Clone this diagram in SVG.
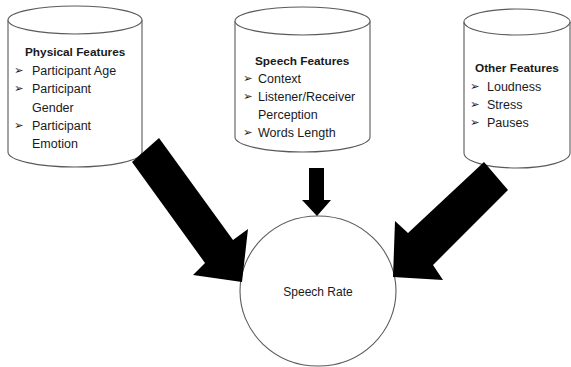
<svg xmlns="http://www.w3.org/2000/svg" width="571" height="367" viewBox="0 0 571 367">
  <style>
    .shape { fill: #ffffff; stroke: #5a5a5a; stroke-width: 1.1; }
    .head { font-family: "Liberation Sans", Arial, sans-serif; font-size: 11.8px; font-weight: bold; fill: #1a1a1a; }
    .item { font-family: "Liberation Sans", Arial, sans-serif; font-size: 12.5px; fill: #1a1a1a; }
    .label { font-family: "Liberation Sans", Arial, sans-serif; font-size: 12px; fill: #1a1a1a; }
    .bullet { font-family: "DejaVu Sans", sans-serif; font-size: 11.5px; fill: #1a1a1a; }
    .arrow { fill: #000000; stroke: none; }
  </style>
  <rect width="571" height="367" fill="#ffffff"/>

  <!-- Physical features store -->
  <g id="physical">
    <path class="shape" d="M8,20 V152 A67,15 0 0 0 142,152 V20"/>
    <ellipse class="shape" cx="75" cy="20" rx="67" ry="14"/>
    <text class="head" x="25" y="56">Physical Features</text>
    <text class="bullet" x="14" y="74">➢</text><text class="item" x="32" y="75">Participant Age</text>
    <text class="bullet" x="14" y="92">➢</text><text class="item" x="32" y="93">Participant</text>
    <text class="item" x="32" y="112">Gender</text>
    <text class="bullet" x="14" y="129">➢</text><text class="item" x="32" y="130">Participant</text>
    <text class="item" x="32" y="148">Emotion</text>
  </g>

  <!-- Speech features store -->
  <g id="speech">
    <path class="shape" d="M235,21 V137 A67.5,15 0 0 0 370,137 V21"/>
    <ellipse class="shape" cx="302.5" cy="21" rx="67.5" ry="14"/>
    <text class="head" x="255" y="65">Speech Features</text>
    <text class="bullet" x="243" y="82">➢</text><text class="item" x="258" y="83">Context</text>
    <text class="bullet" x="243" y="100">➢</text><text class="item" x="258" y="101">Listener/Receiver</text>
    <text class="item" x="258" y="119">Perception</text>
    <text class="bullet" x="243" y="136">➢</text><text class="item" x="258" y="137">Words Length</text>
  </g>

  <!-- Other features store -->
  <g id="other">
    <path class="shape" d="M464,22 V153 A53,15 0 0 0 570,153 V22"/>
    <ellipse class="shape" cx="517" cy="22" rx="53" ry="13"/>
    <text class="head" x="475" y="72">Other Features</text>
    <text class="bullet" x="470" y="90">➢</text><text class="item" x="487" y="91">Loudness</text>
    <text class="bullet" x="470" y="108">➢</text><text class="item" x="487" y="109">Stress</text>
    <text class="bullet" x="470" y="126">➢</text><text class="item" x="487" y="127">Pauses</text>
  </g>

  <!-- Target -->
  <g id="speech-rate">
    <ellipse class="shape" cx="318" cy="291" rx="78" ry="75"/>
    <text class="label" x="318" y="296" text-anchor="middle">Speech Rate</text>
  </g>

  <!-- Block arrows into the target -->
  <g id="connectors">
    <polygon class="arrow" points="132,162 159,138 233,240 248,229 242,282 193,275 205,263"/>
    <polygon class="arrow" points="309,168 324,168 324,200 331,200 317,216 302,200 309,200"/>
    <polygon class="arrow" points="484,162 508,190 433,265 443,280 393,277 395,221 408,233"/>
  </g>
</svg>
